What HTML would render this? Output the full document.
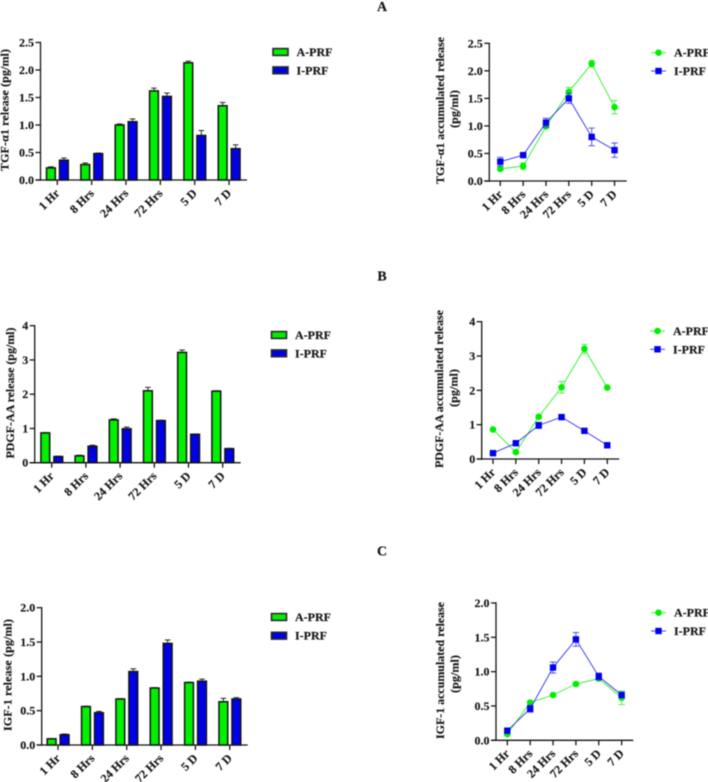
<!DOCTYPE html>
<html lang="en">
<head>
<meta charset="utf-8">
<title>Growth factor release charts</title>
<style>
html,body{margin:0;padding:0;background:#fff;}
#figure{display:block;filter:blur(0.5px);}
text{font-family:"Liberation Serif",serif;font-weight:bold;fill:#161616;font-size:12px;stroke:#161616;stroke-width:0.15px;}
</style>
</head>
<body>
<svg id="figure" xmlns="http://www.w3.org/2000/svg" width="708" height="782" viewBox="0 0 708 782">
  <rect width="708" height="782" fill="#fff"/>
  <text x="382" y="11" text-anchor="middle" style="font-size:14px">A</text>
  <text x="382" y="280.5" text-anchor="middle" style="font-size:14px">B</text>
  <text x="382" y="555.5" text-anchor="middle" style="font-size:14px">C</text>
</svg>
<script>
const categories = ['1 Hr', '8 Hrs', '24 Hrs', '72 Hrs', '5 D', '7 D'];

const barTgfGreen = [0.22, 0.28, 1.00, 1.62, 2.13, 1.35];
const barTgfGreenErr = [0.02, 0.03, 0.02, 0.05, 0.03, 0.06];
const barTgfBlue = [0.36, 0.48, 1.06, 1.52, 0.81, 0.57];
const barTgfBlueErr = [0.04, 0.01, 0.05, 0.06, 0.09, 0.07];

const lineTgfGreen = [0.22, 0.27, 0.99, 1.62, 2.13, 1.34];
const lineTgfGreenErr = [0.03, 0.06, 0.03, 0.08, 0.06, 0.12];
const lineTgfBlue = [0.35, 0.47, 1.06, 1.50, 0.80, 0.56];
const lineTgfBlueErr = [0.08, 0.02, 0.08, 0.09, 0.16, 0.13];

const barPdgfGreen = [0.87, 0.20, 1.25, 2.10, 3.22, 2.09];
const barPdgfGreenErr = [0.01, 0.02, 0.03, 0.10, 0.07, 0.01];
const barPdgfBlue = [0.18, 0.48, 0.99, 1.23, 0.83, 0.41];
const barPdgfBlueErr = [0.01, 0.03, 0.05, 0.01, 0.01, 0.01];

const linePdgfGreen = [0.86, 0.20, 1.23, 2.09, 3.21, 2.08];
const linePdgfGreenErr = [0.02, 0.03, 0.05, 0.17, 0.13, 0.02];
const linePdgfBlue = [0.17, 0.46, 0.98, 1.22, 0.82, 0.40];
const linePdgfBlueErr = [0.02, 0.04, 0.09, 0.02, 0.02, 0.02];

const barIgfGreen = [0.09, 0.56, 0.67, 0.83, 0.91, 0.63];
const barIgfGreenErr = [0.005, 0.005, 0.005, 0.005, 0.005, 0.05];
const barIgfBlue = [0.15, 0.47, 1.07, 1.48, 0.93, 0.67];
const barIgfBlueErr = [0.01, 0.02, 0.04, 0.05, 0.03, 0.02];

const lineIgfGreen = [0.09, 0.55, 0.66, 0.82, 0.90, 0.62];
const lineIgfGreenErr = [0.02, 0.02, 0.02, 0.02, 0.02, 0.10];
const lineIgfBlue = [0.14, 0.46, 1.06, 1.47, 0.93, 0.66];
const lineIgfBlueErr = [0.02, 0.05, 0.08, 0.10, 0.05, 0.04];

const ticksTwoFive = ['0.0', '0.5', '1.0', '1.5', '2.0', '2.5'];
const ticksFour = ['0', '1', '2', '3', '4'];
const ticksTwo = ['0.0', '0.5', '1.0', '1.5', '2.0'];

const seriesNames = ['A-PRF', 'I-PRF'];

const svg = document.getElementById('figure');
const NS = 'http://www.w3.org/2000/svg';
const INK = '#141414';
const BAR_GREEN = '#00f000';
const BAR_BLUE = '#0000e6';
const LINE_GREEN = '#2bf02b';
const LINE_BLUE = '#2f2ff0';

function make(tag, attrs, parent) {
  const node = document.createElementNS(NS, tag);
  for (const key in attrs) node.setAttribute(key, attrs[key]);
  parent.appendChild(node);
  return node;
}

function stroke(parent, x1, y1, x2, y2, color, width) {
  return make('line', {x1: x1, y1: y1, x2: x2, y2: y2, stroke: color, 'stroke-width': width}, parent);
}

function drawAxes(g, c, ticks) {
  const maxV = parseFloat(ticks[ticks.length - 1]);
  const yPos = v => c.y0 - (v / maxV) * (c.y0 - c.yTop);
  const xPos = i => c.xFirst + i * c.xStep;

  const yAxis = stroke(g, c.xAxis, c.yTop - 0.7, c.xAxis, c.y0 + 0.7, INK, 1.3);
  
  

  const xAxis = stroke(g, c.xAxis - 5, c.y0, c.xEnd, c.y0, INK, 1.3);
  
  

  ticks.forEach(label => {
    const v = parseFloat(label);
    const t = stroke(g, c.xAxis - 5, yPos(v), c.xAxis, yPos(v), INK, 1.3);
    
    

    const tx = make('text', {x: c.xAxis - 6.5, y: yPos(v) + 4, 'text-anchor': 'end'}, g);
    tx.textContent = label;
    
    
  });

  categories.forEach((label, i) => {
    const t = stroke(g, xPos(i), c.y0, xPos(i), c.y0 + 5, INK, 1.3);
    
    

    const lx = xPos(i) + 3;
    const ly = c.y0 + 14;
    const tx = make('text', {x: lx, y: ly, 'text-anchor': 'end', transform: 'rotate(-45 ' + lx + ' ' + ly + ')'}, g);
    tx.textContent = label;
    
    
  });

  c.titles.forEach(title => {
    const tx = make('text', {
      x: 0, y: 0, 'text-anchor': 'middle',
      textLength: title.len, lengthAdjust: 'spacing',
      transform: 'translate(' + title.x + ' ' + title.y + ') rotate(-90)'
    }, g);
    tx.textContent = title.text;
    
    
  });

  return {xPos: xPos, yPos: yPos};
}

function drawBarChart(name, c, ticks, green, greenErr, blue, blueErr) {
  const g = make('g', {}, svg);
  
  

  const axes = drawAxes(g, c, ticks);
  const width = 8.8;
  const series = [
    {values: green, errs: greenErr, fill: BAR_GREEN, offset: -6.4},
    {values: blue, errs: blueErr, fill: BAR_BLUE, offset: 6.6}
  ];

  series.forEach((s, si) => {
    s.values.forEach((v, i) => {
      const cx = axes.xPos(i) + s.offset;
      const top = axes.yPos(v);
      const errTop = axes.yPos(v + s.errs[i]);

      const stem = stroke(g, cx, top, cx, errTop, INK, 0.9);
      
      

      const cap = stroke(g, cx - 2.8, errTop, cx + 2.8, errTop, INK, 0.9);
      
      

      const bar = make('rect', {
        x: cx - width / 2, y: top, width: width, height: c.y0 - top,
        fill: s.fill, stroke: INK, 'stroke-width': 1.5
      }, g);
      
      
    });
  });

  seriesNames.forEach((label, si) => {
    const ly = c.legendY[si];
    const swatch = make('rect', {
      x: c.legendX, y: ly - 3.4, width: 15, height: 6.8,
      fill: series[si].fill, stroke: '#2a2a2a', 'stroke-width': 1.6
    }, g);
    
    

    const tx = make('text', {x: c.legendX + 23.5, y: ly + 4}, g);
    tx.textContent = label;
    
    
  });
}

function drawMarker(g, kind, x, y, color) {
  if (kind === 'circle') {
    return make('circle', {cx: x, cy: y, r: 3.3, fill: color}, g);
  }
  return make('rect', {x: x - 3.2, y: y - 3.2, width: 6.4, height: 6.4, fill: color}, g);
}

function drawLineChart(name, c, ticks, green, greenErr, blue, blueErr) {
  const g = make('g', {}, svg);
  
  

  const axes = drawAxes(g, c, ticks);
  const series = [
    {values: green, errs: greenErr, line: LINE_GREEN, mark: '#00ee00', kind: 'circle'},
    {values: blue, errs: blueErr, line: LINE_BLUE, mark: '#0000ee', kind: 'square'}
  ];

  series.forEach((s, si) => {
    const pts = s.values.map((v, i) => axes.xPos(i) + ',' + axes.yPos(v)).join(' ');
    const path = make('polyline', {points: pts, fill: 'none', stroke: s.line, 'stroke-width': 0.9}, g);
    
    

    s.values.forEach((v, i) => {
      const cx = axes.xPos(i);
      const hi = axes.yPos(v + s.errs[i]);
      const lo = axes.yPos(v - s.errs[i]);

      const stem = stroke(g, cx, hi, cx, lo, s.line, 0.8);
      
      

      const capHi = stroke(g, cx - 3.2, hi, cx + 3.2, hi, s.line, 0.8);
      
      

      const capLo = stroke(g, cx - 3.2, lo, cx + 3.2, lo, s.line, 0.8);
      
      

      const marker = drawMarker(g, s.kind, cx, axes.yPos(v), s.mark);
      
      
    });
  });

  seriesNames.forEach((label, si) => {
    const ly = c.legendY[si];
    const key = stroke(g, c.legendX, ly, c.legendX + 15, ly, series[si].line, 0.9);
    
    

    const km = drawMarker(g, series[si].kind, c.legendX + 7.5, ly, series[si].mark);
    
    

    const tx = make('text', {x: c.legendX + 23, y: ly + 4}, g);
    tx.textContent = label;
    
    
  });
}

drawBarChart('tgf-release-bar-chart', {
  xAxis: 40.5, xEnd: 247, yTop: 42.5, y0: 180, xFirst: 57.3, xStep: 34.35,
  legendX: 273, legendY: [52, 70.3],
  titles: [{text: 'TGF-\u03B11 release (pg/ml)', x: 8.5, y: 110, len: 122}]
}, ticksTwoFive, barTgfGreen, barTgfGreenErr, barTgfBlue, barTgfBlueErr);

drawLineChart('tgf-accumulated-line-chart', {
  xAxis: 489.3, xEnd: 626.7, yTop: 43.3, y0: 181, xFirst: 500.3, xStep: 22.85,
  legendX: 651, legendY: [52.7, 71],
  titles: [
    {text: 'TGF-\u03B11 accumulated release', x: 444, y: 110.5, len: 147},
    {text: '(pg/ml)', x: 458, y: 109, len: 38}
  ]
}, ticksTwoFive, lineTgfGreen, lineTgfGreenErr, lineTgfBlue, lineTgfBlueErr);

drawBarChart('pdgf-release-bar-chart', {
  xAxis: 34.7, xEnd: 240.7, yTop: 325.7, y0: 462.7, xFirst: 51.7, xStep: 34.2,
  legendX: 271.5, legendY: [335, 353.3],
  titles: [{text: 'PDGF-AA release (pg/ml)', x: 14, y: 393, len: 131}]
}, ticksFour, barPdgfGreen, barPdgfGreenErr, barPdgfBlue, barPdgfBlueErr);

drawLineChart('pdgf-accumulated-line-chart', {
  xAxis: 481.7, xEnd: 619.3, yTop: 321.7, y0: 459, xFirst: 493, xStep: 22.85,
  legendX: 650, legendY: [331, 349.3],
  titles: [
    {text: 'PDGF-AA accumulated release', x: 443, y: 389, len: 158},
    {text: '(pg/ml)', x: 457.5, y: 388, len: 38}
  ]
}, ticksFour, linePdgfGreen, linePdgfGreenErr, linePdgfBlue, linePdgfBlueErr);

drawBarChart('igf-release-bar-chart', {
  xAxis: 41.7, xEnd: 247.7, yTop: 607.7, y0: 745, xFirst: 58, xStep: 34.35,
  legendX: 271.5, legendY: [617, 635.7],
  titles: [{text: 'IGF-1 release (pg/ml)', x: 11.5, y: 675, len: 112}]
}, ticksTwo, barIgfGreen, barIgfGreenErr, barIgfBlue, barIgfBlueErr);

drawLineChart('igf-accumulated-line-chart', {
  xAxis: 496, xEnd: 633.3, yTop: 603, y0: 740.3, xFirst: 507.3, xStep: 22.87,
  legendX: 651, legendY: [612.7, 631],
  titles: [
    {text: 'IGF-1 accumulated release', x: 444, y: 670.5, len: 137},
    {text: '(pg/ml)', x: 458.5, y: 674, len: 38}
  ]
}, ticksTwo, lineIgfGreen, lineIgfGreenErr, lineIgfBlue, lineIgfBlueErr);
</script>
</body>
</html>
